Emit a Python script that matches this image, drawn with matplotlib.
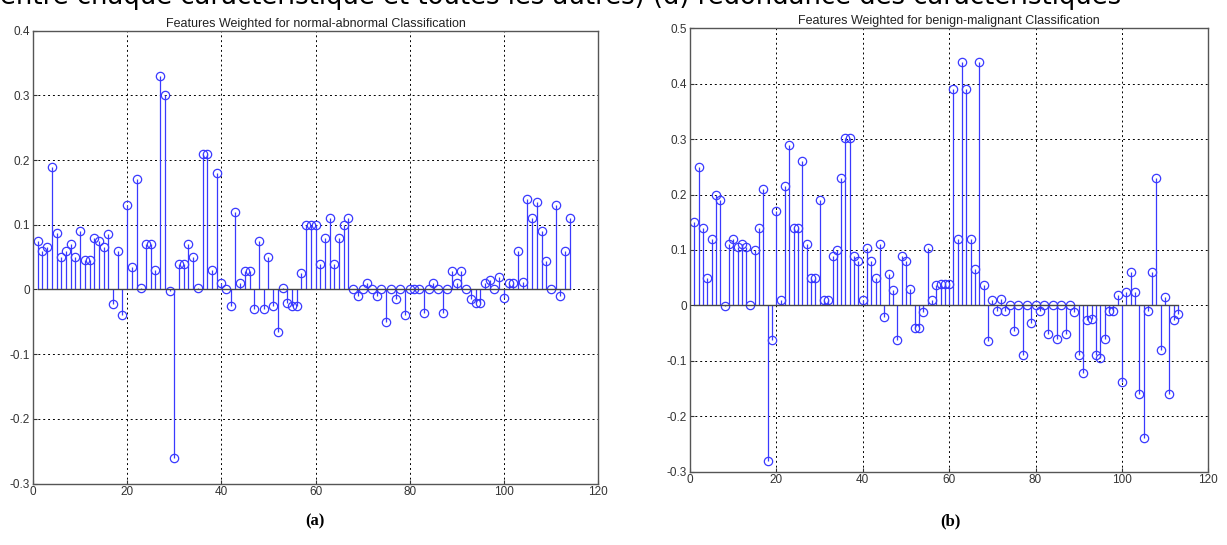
import numpy as np
import matplotlib.pyplot as plt

plt.rcParams['axes.unicode_minus'] = False

# feature weights, normal vs abnormal (features 1..114)
w_normal = [0.075, 0.06, 0.066, 0.19, 0.087, 0.05, 0.06, 0.07, 0.05, 0.09,
            0.046, 0.046, 0.08, 0.075, 0.066, 0.086, -0.022, 0.06, -0.04, 0.13,
            0.034, 0.17, 0.003, 0.07, 0.07, 0.03, 0.33, 0.30, -0.002, -0.26,
            0.04, 0.04, 0.07, 0.05, 0.003, 0.21, 0.21, 0.03, 0.18, 0.01,
            0.0, -0.026, 0.12, 0.01, 0.028, 0.028, -0.03, 0.075, -0.03, 0.05,
            -0.026, -0.066, 0.003, -0.021, -0.026, -0.026, 0.025, 0.10, 0.10, 0.10,
            0.04, 0.08, 0.111, 0.04, 0.08, 0.10, 0.111, 0.0, -0.01, 0.0,
            0.01, 0.0, -0.01, 0.0, -0.05, 0.0, -0.015, 0.0, -0.04, 0.0,
            0.0, 0.0, -0.036, 0.0, 0.01, 0.0, -0.036, 0.0, 0.028, 0.01,
            0.028, 0.0, -0.015, -0.021, -0.021, 0.01, 0.015, 0.0, 0.02, -0.014,
            0.01, 0.01, 0.06, 0.011, 0.14, 0.11, 0.135, 0.09, 0.044, 0.0,
            0.13, -0.01, 0.06, 0.11]

# feature weights, benign vs malignant (features 1..113)
w_benign = [0.15, 0.25, 0.14, 0.05, 0.12, 0.20, 0.19, -0.001, 0.11, 0.12,
            0.105, 0.11, 0.105, 0.0, 0.10, 0.14, 0.21, -0.28, -0.062, 0.17,
            0.01, 0.215, 0.29, 0.14, 0.14, 0.26, 0.11, 0.05, 0.05, 0.19,
            0.01, 0.01, 0.09, 0.10, 0.23, 0.302, 0.302, 0.09, 0.08, 0.01,
            0.103, 0.08, 0.05, 0.11, -0.02, 0.056, 0.027, -0.062, 0.09, 0.08,
            0.03, -0.041, -0.04, -0.011, 0.103, 0.01, 0.037, 0.038, 0.038, 0.038,
            0.39, 0.12, 0.44, 0.39, 0.12, 0.065, 0.44, 0.036, -0.064, 0.01,
            -0.01, 0.011, -0.01, 0.0, -0.046, 0.0, -0.09, 0.0, -0.031, 0.0,
            -0.01, 0.0, -0.052, 0.0, -0.061, 0.0, -0.052, 0.0, -0.012, -0.09,
            -0.122, -0.026, -0.024, -0.09, -0.095, -0.061, -0.01, -0.01, 0.019, -0.139,
            0.024, 0.061, 0.024, -0.16, -0.24, -0.01, 0.061, 0.23, -0.08, 0.016,
            -0.16, -0.026, -0.015]

titles = ['Features Weighted for normal-abnormal Classification',
          'Features Weighted for benign-malignant Classification']
panel_labels = ['(a)', '(b)']
ylims = [(-0.3, 0.4), (-0.3, 0.5)]
yticks = [np.arange(-0.3, 0.41, 0.1), np.arange(-0.3, 0.51, 0.1)]
xticks = [0, 20, 40, 60, 80, 100, 120]

W, H = 1227, 545
fig = plt.figure(figsize=(W / 100, H / 100), dpi=100)

# axes boxes in pixels: left, top, right, bottom
boxes = [(33, 30.7, 598, 483.5), (690, 28.3, 1208.3, 471.7)]
label_x = [315, 950]

# caption of the page above, cut by the crop
fig.text(0, 1 - 4 / H, "entre chaque caractéristique et toutes les autres) (d) redondance des caractéristiques",
         fontsize=18.6, family='DejaVu Sans', va='baseline', ha='left', color='black')

for i, w in enumerate([w_normal, w_benign]):
    l, t, r, b = boxes[i]
    ax = fig.add_axes([l / W, 1 - b / H, (r - l) / W, (b - t) / H])
    x = np.arange(1, len(w) + 1)
    markers, stems, base = ax.stem(x, w, basefmt='-')
    plt.setp(stems, color='#3a3aff', linewidth=0.9)
    plt.setp(markers, color='#3a3aff', markerfacecolor='none', markersize=6, markeredgewidth=0.9)
    plt.setp(base, color='#444444', linewidth=1.0)
    ax.set_xlim(0, 120)
    ax.set_ylim(*ylims[i])
    ax.set_xticks(xticks)
    ax.set_yticks(yticks[i])
    ax.set_yticklabels(['%g' % round(v, 1) if abs(v) > 1e-9 else '0' for v in yticks[i]])
    ax.grid(True, color='black', linestyle=(0, (2, 3)), linewidth=0.7)
    ax.tick_params(direction='in', length=3, labelsize=8.5, colors='#333333', pad=2)
    for lab in ax.get_xticklabels() + ax.get_yticklabels():
        lab.set_family('Liberation Sans')
    for sp in ax.spines.values():
        sp.set_color('#555555')
        sp.set_linewidth(1.0)
    ax.set_title(titles[i], fontsize=9, family=['Liberation Sans Narrow', 'Liberation Sans'],
                 color='#222222', pad=3)
    fig.text(label_x[i] / W, 1 - 521 / H, panel_labels[i], fontsize=12, fontweight='bold',
             family='Liberation Serif', ha='center', va='center')

fig.savefig('out.png', dpi=100)
